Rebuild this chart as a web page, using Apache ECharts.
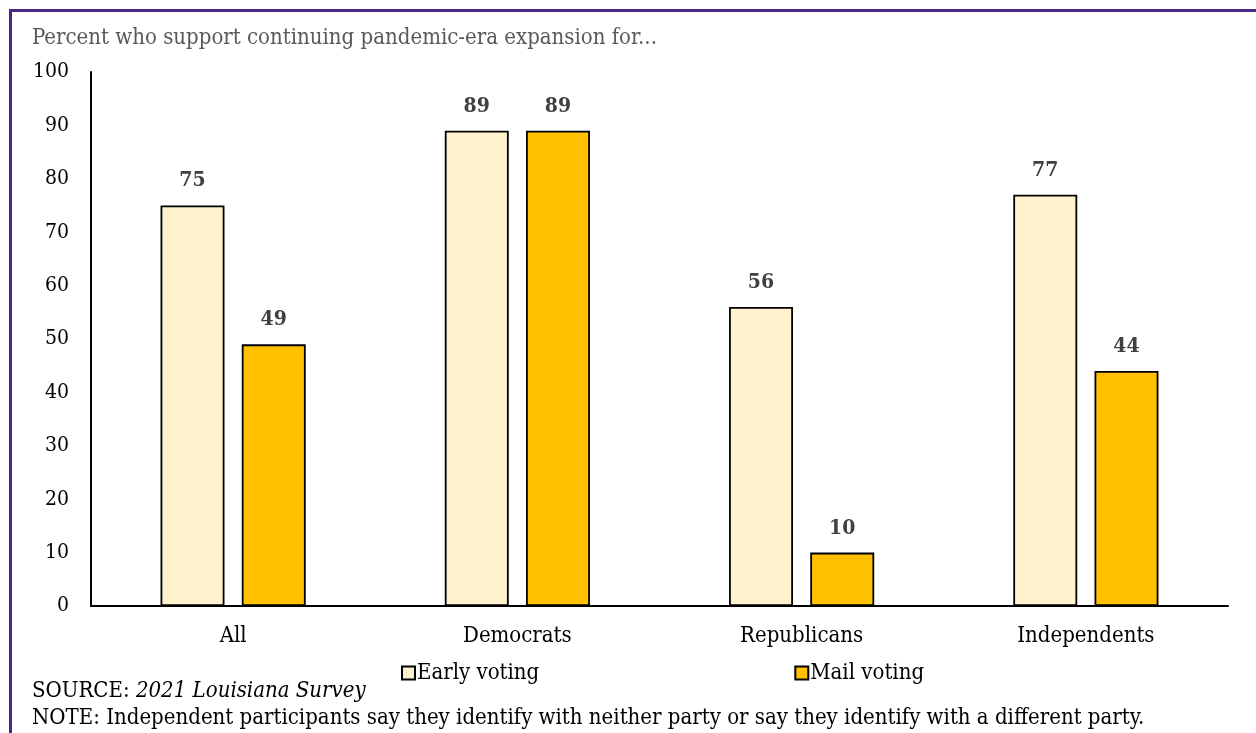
<!DOCTYPE html>
<html><head><meta charset="utf-8">
<script src="https://cdn.jsdelivr.net/npm/echarts@6/dist/echarts.min.js"></script>
<style>html,body{margin:0;padding:0;background:#fff;}#c{width:1256px;height:733px;}</style>
</head><body><div id="c"></div>
<script>
const categories = ['All', 'Democrats', 'Republicans', 'Independents'];
const earlyVoting = [75, 89, 56, 77];
const mailVoting = [49, 89, 10, 44];
const yTicks = {min: 0, max: 100, interval: 10};
const seriesNames = ['Early voting', 'Mail voting'];

const FONT = "'DejaVu Serif Condensed', 'DejaVu Serif', serif";
const chart = echarts.init(document.getElementById('c'));
const labelStyle = {show: true, position: 'top', distance: 14, fontFamily: FONT, fontWeight: 'bold', fontSize: 21, color: '#404040'};
chart.setOption({
  animation: false,
  textStyle: {fontFamily: FONT},
  grid: {left: 91, right: 28, top: 72, bottom: 127},
  xAxis: {
    type: 'category', data: categories,
    axisLine: {lineStyle: {color: '#000', width: 2}},
    axisTick: {show: false},
    axisLabel: {fontFamily: FONT, fontSize: 22, color: '#000', margin: 19}
  },
  yAxis: {
    type: 'value', min: yTicks.min, max: yTicks.max, interval: yTicks.interval,
    axisLine: {show: true, lineStyle: {color: '#000', width: 2}},
    axisTick: {show: false},
    splitLine: {show: false},
    axisLabel: {fontFamily: FONT, fontSize: 21, color: '#000', margin: 22}
  },
  legend: {
    left: 396, top: 657, itemGap: 255, itemWidth: 13, itemHeight: 13,
    icon: 'rect',
    textStyle: {fontFamily: FONT, fontSize: 22, color: '#000', padding: [0,0,0,-3]},
    data: seriesNames
  },
  series: [
    {name: seriesNames[0], type: 'bar', data: earlyVoting, barWidth: '22.5%', barGap: '27%',
     itemStyle: {color: '#FFF2CC', borderColor: '#000', borderWidth: 1.8}, label: labelStyle},
    {name: seriesNames[1], type: 'bar', data: mailVoting, barWidth: '22.5%',
     itemStyle: {color: '#FFC000', borderColor: '#000', borderWidth: 1.8}, label: labelStyle}
  ],
  graphic: [
    {type: 'rect', shape: {x: 10.5, y: 10.5, width: 1400, height: 1400}, style: {fill: null, stroke: '#4B2683', lineWidth: 3}, silent: true},
    {type: 'text', left: 32, top: 27, style: {text: 'Percent who support continuing pandemic-era expansion for...', font: "22px " + FONT, fill: '#595959'}},
    {type: 'text', left: 32, top: 680, style: {
      text: '{n|SOURCE: }{i|2021 Louisiana Survey}',
      rich: {n: {fontFamily: FONT, fontSize: 22, fill: '#000'}, i: {fontFamily: FONT, fontSize: 22, fontStyle: 'italic', fill: '#000'}}
    }},
    {type: 'text', left: 32, top: 707, style: {text: 'NOTE: Independent participants say they identify with neither party or say they identify with a different party.', font: "22px " + FONT, fill: '#000'}}
  ]
});
</script></body></html>
